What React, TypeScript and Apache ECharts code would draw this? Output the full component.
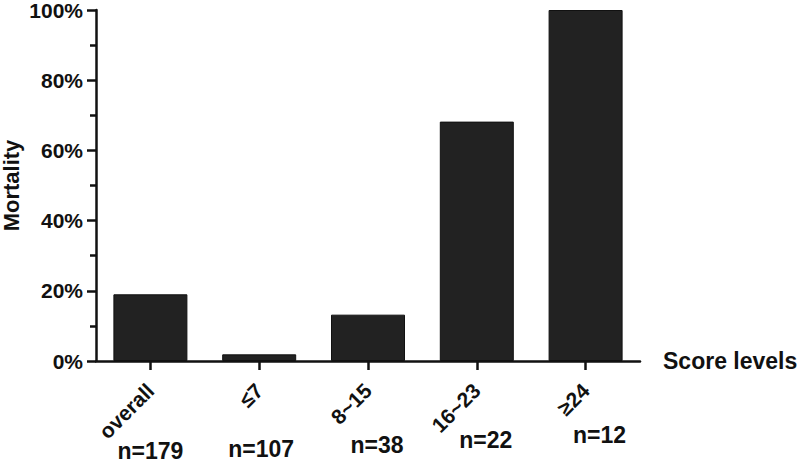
import React, { useEffect, useRef } from "react";
import * as echarts from "echarts";

const categories = ["overall", "≤7", "8~15", "16~23", "≥24"];
const mortality = [19.0, 1.9, 13.2, 68.2, 100];
const sampleSizes = ["n=179", "n=107", "n=38", "n=22", "n=12"];
const yTicks = [0, 20, 40, 60, 80, 100];

// layout of the sample-size labels (offsets from tick / axis), not data
const nLabelDx = [0, 2, 9, 9, 14];
const nLabelDy = [90, 88, 84, 79, 74];

const FONT = "'Liberation Sans', Arial, Helvetica, sans-serif";

export default function App() {
  const ref = useRef<HTMLDivElement>(null);
  useEffect(() => {
    if (!ref.current) return;
    const chart = echarts.init(ref.current, undefined, { renderer: "svg" });
    const axisColor = "#111";
    chart.setOption({
      animation: false,
      backgroundColor: "#fff",
      grid: {
        left: 96,
        right: 160,
        top: 10,
        bottom: 102,
        containLabel: false,
        outerBoundsMode: "none",
      },
      xAxis: {
        type: "category",
        data: categories,
        name: "Score levels",
        nameLocation: "end",
        nameGap: 23,
        nameMoveOverlap: false,
        nameTextStyle: {
          fontFamily: FONT,
          fontWeight: "bold",
          fontSize: 23,
          color: "#111",
          verticalAlign: "middle",
          padding: [6, 0, 0, 0],
        },
        axisLine: { show: true, lineStyle: { color: axisColor, width: 2.5 } },
        axisTick: {
          show: true,
          alignWithLabel: true,
          length: 9,
          lineStyle: { color: axisColor, width: 2.5 },
        },
        axisLabel: {
          interval: 0,
          rotate: 45,
          margin: 26,
          fontFamily: FONT,
          fontWeight: "bold",
          fontSize: 21,
          color: "#111",
        },
      },
      yAxis: {
        type: "value",
        min: 0,
        max: 100,
        interval: 20,
        name: "Mortality",
        nameLocation: "middle",
        nameGap: 74,
        nameRotate: 90,
        nameMoveOverlap: false,
        nameTextStyle: {
          fontFamily: FONT,
          fontWeight: "bold",
          fontSize: 22,
          color: "#111",
        },
        axisLine: { show: true, lineStyle: { color: axisColor, width: 2.5 } },
        axisTick: {
          show: true,
          inside: false,
          length: 9,
          lineStyle: { color: axisColor, width: 2.5 },
        },
        minorTick: {
          show: true,
          splitNumber: 2,
          length: 6,
          lineStyle: { color: axisColor, width: 2.5 },
        },
        splitLine: { show: false },
        axisLabel: {
          margin: 13,
          fontFamily: FONT,
          fontWeight: "bold",
          fontSize: 21,
          color: "#111",
          formatter: (v: number) => (yTicks.includes(v) ? v + "%" : ""),
        },
      },
      series: [
        {
          type: "bar",
          data: mortality,
          barWidth: 74,
          itemStyle: { color: "#222", borderColor: "#111", borderWidth: 1 },
        },
      ],
    });

    const graphics = sampleSizes.map((s, i) => {
      const [px, py] = chart.convertToPixel({ gridIndex: 0 }, [i, 0]) as number[];
      return {
        type: "text",
        x: px + nLabelDx[i],
        y: py + nLabelDy[i],
        style: {
          text: s,
          fontFamily: FONT,
          fontWeight: "bold",
          fontSize: 23,
          fill: "#111",
          textAlign: "center",
          textVerticalAlign: "middle",
        },
      };
    });
    chart.setOption({ graphic: graphics });

    return () => chart.dispose();
  }, []);
  return <div ref={ref} style={{ width: 800, height: 463, position: "fixed", left: 0, top: 0 }} />;
}
